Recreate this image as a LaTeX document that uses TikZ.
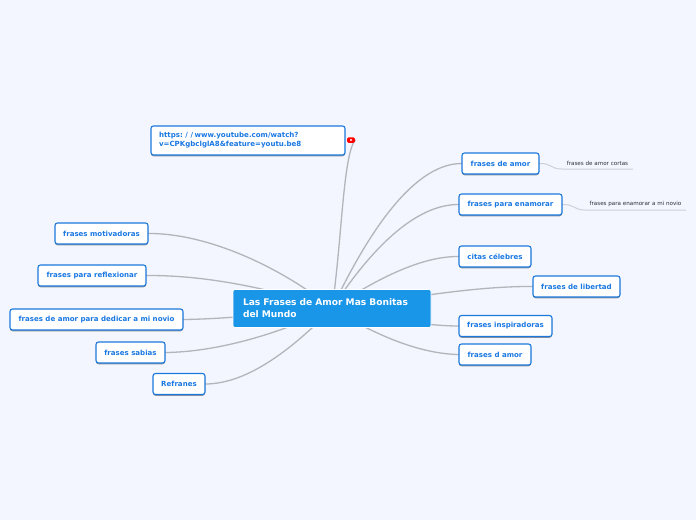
\documentclass[tikz,border=0pt]{standalone}
\usepackage{fontspec}
\setmainfont{DejaVu Sans}
\usetikzlibrary{shadows}
\pgfdeclarelayer{bgl}
\pgfdeclarelayer{edgel}
\pgfsetlayers{bgl,edgel,main}
\definecolor{pagebg}{HTML}{F3F6FE}
\definecolor{topicblue}{HTML}{1B78DC}
\definecolor{topictext}{HTML}{1A78E2}
\definecolor{rootblue}{HTML}{1A96E9}
\definecolor{linkgrey}{HTML}{B4B5BB}
\definecolor{sublink}{HTML}{CDCFD9}
\definecolor{subtext}{HTML}{2E2E38}
\tikzset{
  x=1pt,y=-1pt,
  topic/.style={draw=topicblue,fill=white,line width=1.1pt,rounded corners=2.5pt,
    text=topictext,font=\fontsize{7.05}{9}\selectfont\bfseries,inner sep=0pt,outer sep=0pt,
    minimum height=21pt,
    drop shadow={shadow xshift=0pt,shadow yshift=-1.3pt,fill=black,opacity=.4}},
  urltopic/.style={topic,align=left,text width=178pt,minimum height=29pt},
  roottopic/.style={draw=white,fill=rootblue,line width=.7pt,rounded corners=2pt,
    text=white,font=\fontsize{9.1}{12.2}\selectfont\bfseries,inner sep=0pt,outer sep=0pt,
    align=left,text width=178pt,minimum height=38pt},
  subtopic/.style={text=subtext,font=\fontsize{5.6}{7}\selectfont,inner sep=0pt,outer sep=0pt,
    minimum height=12pt,anchor=center},
  link/.style={draw=linkgrey,line width=1.3pt},
  sublinkline/.style={draw=sublink,line width=1pt},
  ytbadge/.style={fill=red,rounded corners=1.5pt,minimum width=8pt,minimum height=5.5pt,inner sep=0pt},
}
\begin{document}
\begin{tikzpicture}
\useasboundingbox (0,0) rectangle (696,520);
\begin{pgfonlayer}{bgl}
\fill[pagebg] (0,0) rectangle (696,520);
\end{pgfonlayer}
\node[roottopic,minimum width=198pt] (root) at (332,308.5) {Las Frases de Amor Mas Bonitas\\del Mundo};
\node[urltopic,minimum width=194pt] (url) at (248,140.5) {\raisebox{-.6pt}{https:\kern2.6pt/\kern2.6pt/\kern1.4pt www.youtube.com/watch?}\\\raisebox{-.6pt}{v=CPKgbclglA8\&feature=youtu.be8}};
\node[ytbadge] (yt) at (351,140) {};
\fill[white] (yt.center) circle (1.1pt);
\node[topic,minimum width=77pt] (amor) at (500.5,163.5) {frases de amor};
\node[topic,minimum width=103pt] (enam) at (510.5,204.5) {frases para enamorar};
\node[topic,minimum width=72pt] (citas) at (495,256.5) {citas célebres};
\node[topic,minimum width=87pt] (liber) at (576.5,286.5) {frases de libertad};
\node[topic,minimum width=93pt] (inspi) at (505.5,326) {frases inspiradoras};
\node[topic,minimum width=72pt] (damor) at (495,354.5) {frases d amor};
\node[topic,minimum width=93pt] (motiv) at (101.5,233.5) {frases motivadoras};
\node[topic,minimum width=108pt] (refle) at (92,275.5) {frases para reflexionar};
\node[topic,minimum width=173pt] (dedic) at (96.5,319.5) {frases de amor para dedicar a mi novio};
\node[topic,minimum width=69pt] (sabia) at (130.5,352.5) {frases sabias};
\node[topic,minimum width=52pt] (refra) at (179,384) {Refranes};
\node[subtopic,minimum width=71pt] (amorc) at (597.5,163) {frases de amor cortas};
\node[subtopic,minimum width=101pt] (enamn) at (635.5,204) {frases para enamorar a mi novio};
\begin{pgfonlayer}{edgel}
\draw[link] (root.center) .. controls (342,240) and (343,155) .. (yt.east);
\draw[link] (root.center) .. controls (362,245) and (410,163) .. (amor.west);
\draw[link] (root.center) .. controls (370,250) and (415,204) .. (enam.west);
\draw[link] (root.center) .. controls (382,275) and (425,256) .. (citas.west);
\draw[link] (root.center) .. controls (400,300) and (470,286) .. (liber.west);
\draw[link] (root.center) .. controls (390,320) and (430,326) .. (inspi.west);
\draw[link] (root.center) .. controls (375,335) and (420,354) .. (damor.west);
\draw[link] (root.center) .. controls (285,270) and (210,233) .. (motiv.east);
\draw[link] (root.center) .. controls (290,295) and (220,275) .. (refle.east);
\draw[link] (root.center) .. controls (290,312) and (230,319) .. (dedic.east);
\draw[link] (root.center) .. controls (283,332) and (220,352) .. (sabia.east);
\draw[link] (root.center) .. controls (296,345) and (250,384) .. (refra.east);
\draw[sublinkline] (amor.east) .. controls (552,163) and (550,169) .. (amorc.south west) -- (amorc.south east);
\draw[sublinkline] (enam.east) .. controls (575,204) and (573,210) .. (enamn.south west) -- (enamn.south east);
\end{pgfonlayer}
\end{tikzpicture}
\end{document}
